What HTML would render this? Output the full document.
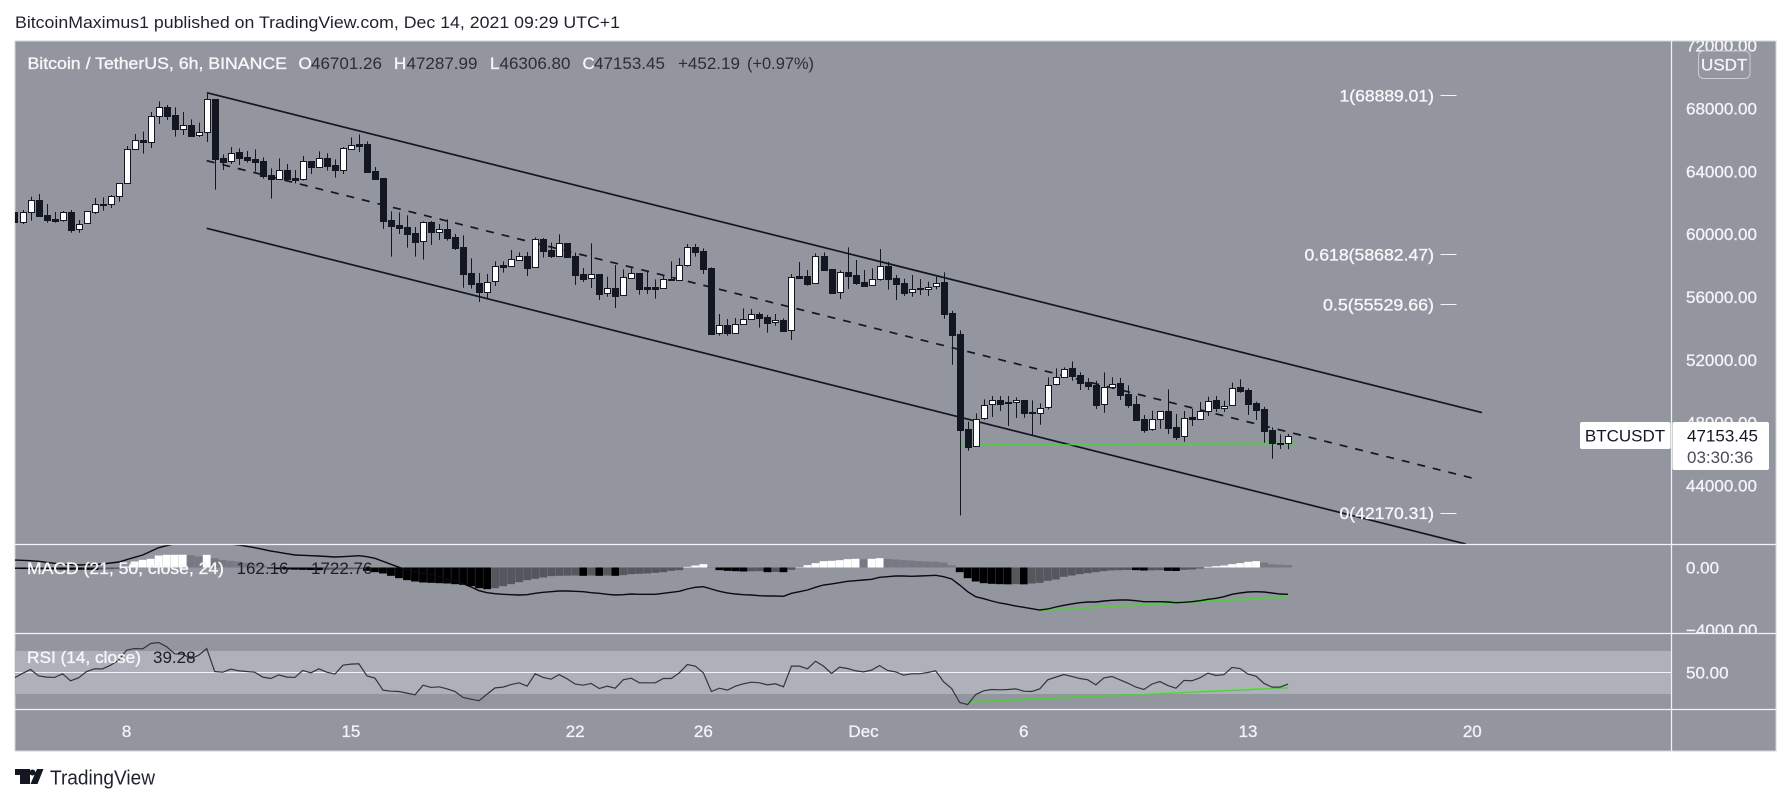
<!DOCTYPE html>
<html lang="en">
<head>
<meta charset="utf-8">
<title>BTCUSDT 6h chart</title>
<style>
html,body{margin:0;padding:0;background:#fff;width:1791px;height:804px;overflow:hidden}
svg{display:block}
text{font-family:"Liberation Sans",sans-serif;font-size:17px}
.lt{fill:#f6f7f9;stroke:#f6f7f9;stroke-width:.35}
.dk{fill:#2a2e39}
.ax{fill:#f3f4f7;stroke:#f3f4f7;stroke-width:.3}
</style>
</head>
<body>
<svg id="chart" xmlns="http://www.w3.org/2000/svg" width="1791" height="804" viewBox="0 0 1791 804">
<defs>
<clipPath id="mainClip"><rect x="15" y="41" width="1656.5" height="503"/></clipPath>
<clipPath id="macdClip"><rect x="15" y="544" width="1656.5" height="89"/></clipPath>
<clipPath id="rsiClip"><rect x="15" y="633" width="1656.5" height="76"/></clipPath>
<clipPath id="axisTopClip"><rect x="1672" y="41" width="104" height="503"/></clipPath>
<clipPath id="axisMacdClip"><rect x="1672" y="544" width="104" height="89"/></clipPath>
</defs>
<rect x="0" y="0" width="1791" height="804" fill="#ffffff"/>
<text x="15" y="28" fill="#1f222b" textLength="605" lengthAdjust="spacingAndGlyphs">BitcoinMaximus1 published on TradingView.com, Dec 14, 2021 09:29 UTC+1</text>
<rect x="15" y="41" width="1761" height="710" fill="#93969f" stroke="#d1d4dc" stroke-width="1"/>
<rect x="15" y="651" width="1656.5" height="43" fill="#aeb1b9"/>
<g id="annotations" clip-path="url(#mainClip)"></g>
<g id="candles" clip-path="url(#mainClip)"></g>
<g id="macd" clip-path="url(#macdClip)"></g>
<line x1="15" x2="1671.5" y1="672.5" y2="672.5" stroke="#f0f3fa" stroke-width="1"/>
<g id="rsi" clip-path="url(#rsiClip)"></g>

<line x1="15" x2="1776" y1="544.5" y2="544.5" stroke="#f0f3fa" stroke-width="1.2"/>
<line x1="15" x2="1776" y1="633.5" y2="633.5" stroke="#f0f3fa" stroke-width="1.2"/>
<line x1="15" x2="1776" y1="709.5" y2="709.5" stroke="#f0f3fa" stroke-width="1.2"/>
<line x1="1671.5" x2="1671.5" y1="41" y2="751" stroke="#f0f3fa" stroke-width="1.2"/>

<g>
<text class="lt" x="27.5" y="69" textLength="259.5" lengthAdjust="spacingAndGlyphs">Bitcoin / TetherUS, 6h, BINANCE</text>
<text class="lt" x="298.5" y="69">O</text>
<text class="dk" x="311" y="69">46701.26</text>
<text class="lt" x="394" y="69">H</text>
<text class="dk" x="406.5" y="69">47287.99</text>
<text class="lt" x="490" y="69">L</text>
<text class="dk" x="499.5" y="69">46306.80</text>
<text class="lt" x="582.5" y="69">C</text>
<text class="dk" x="594" y="69">47153.45</text>
<text class="dk" x="678" y="69">+452.19</text>
<text class="dk" x="747" y="69" textLength="67" lengthAdjust="spacingAndGlyphs">(+0.97%)</text>
</g>

<g>
<text class="lt" x="1339.5" y="101.5" textLength="94.5" lengthAdjust="spacingAndGlyphs">1(68889.01)</text>
<line x1="1440.5" x2="1456.5" y1="95.5" y2="95.5" stroke="#f3f4f7" stroke-width="1"/>
<text class="lt" x="1304.5" y="260.5" textLength="129.5" lengthAdjust="spacingAndGlyphs">0.618(58682.47)</text>
<line x1="1440.5" x2="1456.5" y1="254.5" y2="254.5" stroke="#f3f4f7" stroke-width="1"/>
<text class="lt" x="1323" y="310.5" textLength="111" lengthAdjust="spacingAndGlyphs">0.5(55529.66)</text>
<line x1="1440.5" x2="1456.5" y1="304.5" y2="304.5" stroke="#f3f4f7" stroke-width="1"/>
<text class="lt" x="1339.5" y="519" textLength="94.5" lengthAdjust="spacingAndGlyphs">0(42170.31)</text>
<line x1="1440.5" x2="1456.5" y1="513.5" y2="513.5" stroke="#f3f4f7" stroke-width="1"/>
</g>

<g id="priceAxis" clip-path="url(#axisTopClip)"></g>
<g clip-path="url(#axisMacdClip)">
<text class="ax" x="1686" y="573.5">0.00</text>
<text class="ax" x="1686" y="636">−4000.00</text>
</g>
<text class="ax" x="1686" y="678.5">50.00</text>

<rect x="1698.5" y="51" width="51.5" height="27.5" rx="5" fill="#93969f" stroke="#c9ccd4" stroke-width="1"/>
<text class="ax" x="1724.2" y="70.5" text-anchor="middle">USDT</text>

<rect x="1580" y="422" width="90.5" height="27" rx="2" fill="#ffffff"/>
<text x="1625" y="441.5" text-anchor="middle" fill="#131722">BTCUSDT</text>
<rect x="1672.5" y="422" width="96.5" height="48" rx="2" fill="#ffffff"/>
<text x="1687" y="441.5" fill="#131722">47153.45</text>
<text x="1687" y="463" fill="#4a4d57">03:30:36</text>

<g>
<text class="lt" x="27" y="574" textLength="197" lengthAdjust="spacingAndGlyphs">MACD (21, 50, close, 24)</text>
<text fill="#1c1e26" x="236.5" y="574">162.16</text>
<text fill="#1c1e26" x="311" y="574">1722.76</text>
</g>
<g>
<text class="lt" x="27" y="663" textLength="114" lengthAdjust="spacingAndGlyphs">RSI (14, close)</text>
<text fill="#1c1e26" x="153" y="663">39.28</text>
</g>

<g id="timeAxis"></g>

<g>
<path fill="#131722" d="M15 769h15v15h-10v-9h-5z"/>
<circle cx="32.5" cy="772.5" r="3" fill="#131722"/>
<path fill="#131722" d="M37 769h6.5l-6 15h-7z"/>
<text x="50" y="784.5" fill="#1e222d" style="font-size:20px" textLength="105" lengthAdjust="spacingAndGlyphs">TradingView</text>
</g>
</svg>

<script>
const opens=[61390,60796,61390,62154,61220,60944,60880,61411,60307,60689,61432,61940,61899,62408,63236,65400,65973,65888,67501,68074,67565,66716,66928,66291,66482,68583,64827,64636,65209,64891,64764,64636,63745,63533,64063,63554,63491,64637,64297,64828,64382,64106,65443,65740,65740,64021,63576,60902,60562,60435,60053,59544,60753,60159,60308,59820,59183,57507,56872,56337,56998,58037,57995,58377,58610,57889,59671,58971,58631,59438,58610,57464,57188,57464,56234,56552,56106,57231,57528,56616,56616,56552,57146,57061,58016,59183,58929,57846,53687,54196,53687,54260,54578,54897,54706,54387,54536,53878,57316,57316,56870,58610,57761,56297,57592,57379,56955,56743,57125,57974,57188,56872,56299,56573,56490,56681,56936,54962,53625,47597,46494,48276,49168,49422,49316,49295,49422,48658,48595,48977,50441,50886,51459,51014,50589,50377,49168,50250,50504,49804,49168,48213,47576,48255,48722,47703,47130,48340,48255,48722,49422,48955,49104,50250,50059,49252,48849,47534,46706,46701.26];
const closes=[60796,61390,62154,61177,60923,60859,61390,60286,60668,61453,61899,61860,62408,63236,65400,65973,65888,67501,68074,67543,66716,66928,66270,66482,68583,64806,64615,65188,64870,64721,64615,63724,63533,64063,63533,63469,64637,64297,64828,64361,64085,65464,65655,65634,63958,63512,60860,60541,60414,60011,59523,60753,60159,60308,59777,59120,57486,56849,56337,56974,57952,57931,58398,58589,57868,59671,58950,58631,59417,58547,57422,57167,57443,56212,56552,56085,57252,57507,56531,56531,56531,57125,57061,58016,59162,58886,57804,53666,54196,53730,54260,54578,54897,54685,54366,54515,53857,57252,57210,56849,58589,57719,56276,57570,57358,56891,56722,57125,57952,57167,56849,56274,56528,56490,56656,56910,54937,53600,47552,46473,48255,49146,49422,49210,49231,49422,48637,48595,48955,50420,50886,51438,50992,50547,50356,49146,50250,50483,49783,49146,48170,47555,48255,48722,47682,47109,48319,48255,48722,49401,48934,49083,50229,50038,49210,48828,47491,46685,46621,47153.45];
const highs=[61390,61538,62387,62557,61920,61411,61475,61538,60902,61453,62302,62345,62493,63236,65612,66376,66525,67777,68456,68222,68074,67777,67310,67098,68923,68583,65082,65549,65464,65294,65400,64891,64191,64827,64467,64085,64976,64637,65273,65146,64764,65549,66165,66356,65910,64276,63576,61454,61390,61199,60456,60817,60838,60647,60944,60011,59926,58462,57528,57464,58271,58271,58992,58844,58865,59799,59756,59459,59990,59438,58822,57846,59417,57464,57295,58037,57761,57825,57528,57592,57125,57422,58271,58483,59374,59374,59098,57889,54918,54600,54663,55279,55236,55024,54854,54918,54642,57464,58228,57719,58780,58844,57761,57698,59162,58356,57719,57825,59056,58249,57401,57165,57400,57146,56974,57292,57572,55128,53880,48064,48595,49486,49698,49698,49698,49613,49422,49422,49231,50886,51459,51523,51905,51205,50844,50674,51205,50886,50844,50377,49698,48488,48764,48722,50122,48552,48743,48892,49316,49656,49698,49401,50547,50759,50186,49338,49019,47703,47258,47287.99];
const lows=[60796,60647,60859,61177,60732,60732,60796,60095,60095,60689,61284,61496,61666,62069,63236,65400,65124,65485,67013,67268,66207,66313,66270,66185,65867,62833,64085,64467,64403,64551,63978,63533,62260,63533,63533,63236,63406,63830,64297,64043,63597,63830,65443,65231,63915,63512,60329,58568,60011,59141,58568,58377,59310,59629,59586,58992,56594,56531,55682,55936,56700,57549,57910,58313,57337,57889,58504,58483,58631,58504,56764,56955,56573,55809,56021,55300,56106,57167,56149,56191,55894,56552,57061,57061,57931,58568,57464,53666,53539,53539,53687,54260,54578,54048,53730,54175,53857,53263,57167,56722,56870,57677,56276,55873,56509,56785,56637,56722,57040,56467,55809,56064,56019,56127,56064,56490,54619,51690,42090,46218,46494,48191,48361,48743,47788,48298,48319,47194,47873,48849,50377,50886,50674,50080,50080,48870,48637,50144,49443,48955,48107,47364,47491,47618,47279,46897,46791,47788,48170,48425,48679,48679,49062,49910,48488,48170,46727,45709,46324,46306.80];
const macdHist=[-90,-100,-110,-120,-125,-130,-135,-140,-145,-150,-155,-130,-110,-90,60,385,490,556,770,815,816,820,790,706,815,600,490,428,380,300,200,128,-64,-107,-128,-139,-150,-161,-171,-150,-139,-128,-118,-107,-214,-300,-385,-535,-685,-813,-899,-963,-984,-1006,-1027,-1070,-1113,-1198,-1327,-1391,-1327,-1198,-1070,-942,-813,-728,-642,-556,-535,-524,-514,-535,-514,-535,-514,-535,-492,-428,-407,-385,-342,-300,-214,-171,43,128,214,21,-171,-214,-235,-257,-246,-235,-300,-289,-300,-150,21,150,278,407,428,471,535,556,535,556,599,556,514,471,449,407,385,375,321,150,-300,-685,-899,-1006,-1049,-1070,-1081,-1070,-1081,-1027,-984,-856,-770,-599,-514,-428,-364,-300,-235,-182,-171,-161,-171,-193,-182,-171,-214,-225,-150,-128,-64,43,86,128,214,278,364,407,321,214,180,162.16];
const macdLine=[481,460,439,396,332,268,203,182,160,182,193,225,289,353,503,653,803,1038,1273,1402,1509,1594,1659,1702,1744,1702,1616,1509,1445,1359,1273,1166,1059,974,888,803,781,760,738,706,674,696,728,760,696,589,396,203,11,-161,-268,-375,-460,-589,-738,-845,-1038,-1252,-1487,-1616,-1680,-1723,-1744,-1766,-1744,-1659,-1595,-1552,-1509,-1509,-1530,-1552,-1616,-1659,-1723,-1766,-1744,-1702,-1723,-1723,-1723,-1659,-1595,-1530,-1380,-1273,-1231,-1380,-1530,-1637,-1702,-1744,-1766,-1808,-1830,-1830,-1851,-1659,-1552,-1445,-1273,-1124,-1059,-974,-888,-845,-803,-760,-631,-589,-546,-546,-567,-546,-524,-503,-589,-738,-1124,-1552,-1873,-2001,-2151,-2279,-2365,-2472,-2557,-2643,-2729,-2664,-2536,-2429,-2343,-2258,-2215,-2215,-2151,-2108,-2087,-2087,-2129,-2194,-2194,-2194,-2215,-2258,-2236,-2194,-2129,-2044,-1980,-1873,-1723,-1637,-1573,-1552,-1573,-1637,-1702,-1722.76];
const rsiLine=[45.0,49.1,52.8,46.9,45.7,45.4,48.8,42.3,45.0,50.9,53.4,53.4,56.8,61.5,70.8,72.3,72.0,77.0,77.9,73.9,67.4,67.1,63.0,66.1,72.3,50.9,50.3,53.1,51.6,50.9,50.3,45.7,44.4,47.8,45.7,45.4,51.9,49.7,53.4,50.3,48.5,56.8,57.8,58.1,46.9,44.7,33.6,32.6,32.3,30.8,29.2,38.2,36.1,36.7,34.8,32.3,26.8,25.2,23.7,29.9,35.7,36.4,38.8,40.4,37.3,48.8,45.4,43.8,48.1,44.1,39.2,38.2,39.8,35.1,37.3,35.4,43.2,44.7,40.4,40.4,40.4,44.4,44.4,49.7,57.4,55.9,49.7,32.3,35.4,33.6,37.3,39.5,41.0,40.4,38.5,39.5,36.7,55.9,55.9,53.4,60.5,55.9,49.1,55.0,53.7,51.6,50.6,52.2,56.5,51.9,50.6,47.5,48.8,48.8,50.0,51.6,41.3,35.1,22.1,20.2,29.5,33.0,34.2,33.9,34.2,34.8,32.6,32.3,34.8,43.2,45.7,48.1,46.3,44.4,43.2,38.5,45.0,46.3,43.2,40.1,36.4,34.2,39.2,41.6,37.9,35.4,42.6,42.3,45.0,49.4,47.2,48.1,54.7,53.7,48.5,46.6,39.8,36.4,36.4,39.28];
const priceTicks=[72000,68000,64000,60000,56000,52000,48000,44000];
const timeLabels=["8","15","22","26","Dec","6","13","20"];
const timeLabelBars=[14,42,70,86,106,126,154,182];
const channelUpperBars=[24,183.2];
const channelUpperPrices=[69006,48648];
const channelMidBars=[24,182.8];
const channelMidPrices=[64677,44370];
const channelLowerBars=[24,181.2];
const channelLowerPrices=[60374,40276];
const supportBars=[118,160.1];
const supportPrices=[46559,46661];
const macdTrendBars=[128,159];
const macdTrendValues=[-2780,-1900];
const rsiTrendBars=[119,159];
const rsiTrendValues=[22.1,35.7];

const SVGNS='http://www.w3.org/2000/svg';
function xOf(bar){return 14.49+8.01*bar;}
function snapX(bar){return Math.round(xOf(bar))+0.5;}
function yPrice(p){return 108.5+(68000-p)*0.01571;}
function yMacd(v){return 567.5-v*(62.3/4000);}
function yRsi(v){return 672.5-(v-50)*1.075;}
function make(tag,parent){const el=document.createElementNS(SVGNS,tag);parent.appendChild(el);return el;}
function setAll(el,props){for(const k in props){el.setAttribute(k,props[k]);}}

const annotations=document.getElementById('annotations');
const upper=make('line',annotations);


setAll(upper,{x1:xOf(channelUpperBars[0]),y1:yPrice(channelUpperPrices[0]),x2:xOf(channelUpperBars[1]),y2:yPrice(channelUpperPrices[1]),stroke:'#131722','stroke-width':1.7});
const mid=make('line',annotations);


setAll(mid,{x1:xOf(channelMidBars[0]),y1:yPrice(channelMidPrices[0]),x2:xOf(channelMidBars[1]),y2:yPrice(channelMidPrices[1]),stroke:'#131722','stroke-width':1.7,'stroke-dasharray':'8 8'});
const lower=make('line',annotations);


setAll(lower,{x1:xOf(channelLowerBars[0]),y1:yPrice(channelLowerPrices[0]),x2:xOf(channelLowerBars[1]),y2:yPrice(channelLowerPrices[1]),stroke:'#131722','stroke-width':1.7});
const support=make('line',annotations);


setAll(support,{x1:xOf(supportBars[0]),y1:yPrice(supportPrices[0]),x2:xOf(supportBars[1]),y2:yPrice(supportPrices[1]),stroke:'#36e414','stroke-width':1.2});

const candles=document.getElementById('candles');
opens.forEach(function(o,b){
  const c=closes[b];
  const up=c>=o;
  const xc=snapX(b);
  const wick=make('line',candles);
  
  
  setAll(wick,{x1:xc,x2:xc,y1:yPrice(highs[b]),y2:yPrice(lows[b]),stroke:'#131722','stroke-width':1});
  const top=Math.round(yPrice(Math.max(o,c)))+0.5;
  const bot=Math.round(yPrice(Math.min(o,c)))+0.5;
  const body=make('rect',candles);
  
  
  setAll(body,{x:xc-3,y:top,width:6,height:Math.max(1,bot-top),fill:up?'#ffffff':'#131722',stroke:'#131722','stroke-width':1});
});

const macdG=document.getElementById('macd');
macdHist.forEach(function(v,b){
  const prev=b>0?macdHist[b-1]:v;
  let col;
  if(v>=0){col=v>=prev?'#ffffff':'#767983';}
  else{col=v<=prev?'#000000':'#55575e';}
  const y0=yMacd(0),y1=yMacd(v);
  const bar=make('rect',macdG);
  
  
  setAll(bar,{x:xOf(b)-3.9,y:Math.min(y0,y1),width:7.8,height:Math.abs(y1-y0),fill:col});
});
const macdTrend=make('line',macdG);


setAll(macdTrend,{x1:xOf(macdTrendBars[0]),y1:yMacd(macdTrendValues[0]),x2:xOf(macdTrendBars[1]),y2:yMacd(macdTrendValues[1]),stroke:'#36e414','stroke-width':1.2});
const macdPath=make('polyline',macdG);


setAll(macdPath,{points:macdLine.map(function(v,b){return xOf(b)+','+yMacd(v);}).join(' '),fill:'none',stroke:'#0a0a0f','stroke-width':1.4});

const rsiG=document.getElementById('rsi');
const rsiTrend=make('line',rsiG);


setAll(rsiTrend,{x1:xOf(rsiTrendBars[0]),y1:yRsi(rsiTrendValues[0]),x2:xOf(rsiTrendBars[1]),y2:yRsi(rsiTrendValues[1]),stroke:'#36e414','stroke-width':1.2});
const rsiPath=make('polyline',rsiG);


setAll(rsiPath,{points:rsiLine.map(function(v,b){return xOf(b)+','+yRsi(v);}).join(' '),fill:'none',stroke:'#33353c','stroke-width':1.2});

const priceAxis=document.getElementById('priceAxis');
priceTicks.forEach(function(p){
  const t=make('text',priceAxis);
  
  
  setAll(t,{x:1686,y:yPrice(p)+6,class:'ax'});
  t.textContent=p.toFixed(2);
});

const timeAxis=document.getElementById('timeAxis');
timeLabels.forEach(function(label,k){
  const t=make('text',timeAxis);
  
  
  setAll(t,{x:xOf(timeLabelBars[k]),y:737,'text-anchor':'middle',class:'ax'});
  t.textContent=label;
});
</script>
</body>
</html>
